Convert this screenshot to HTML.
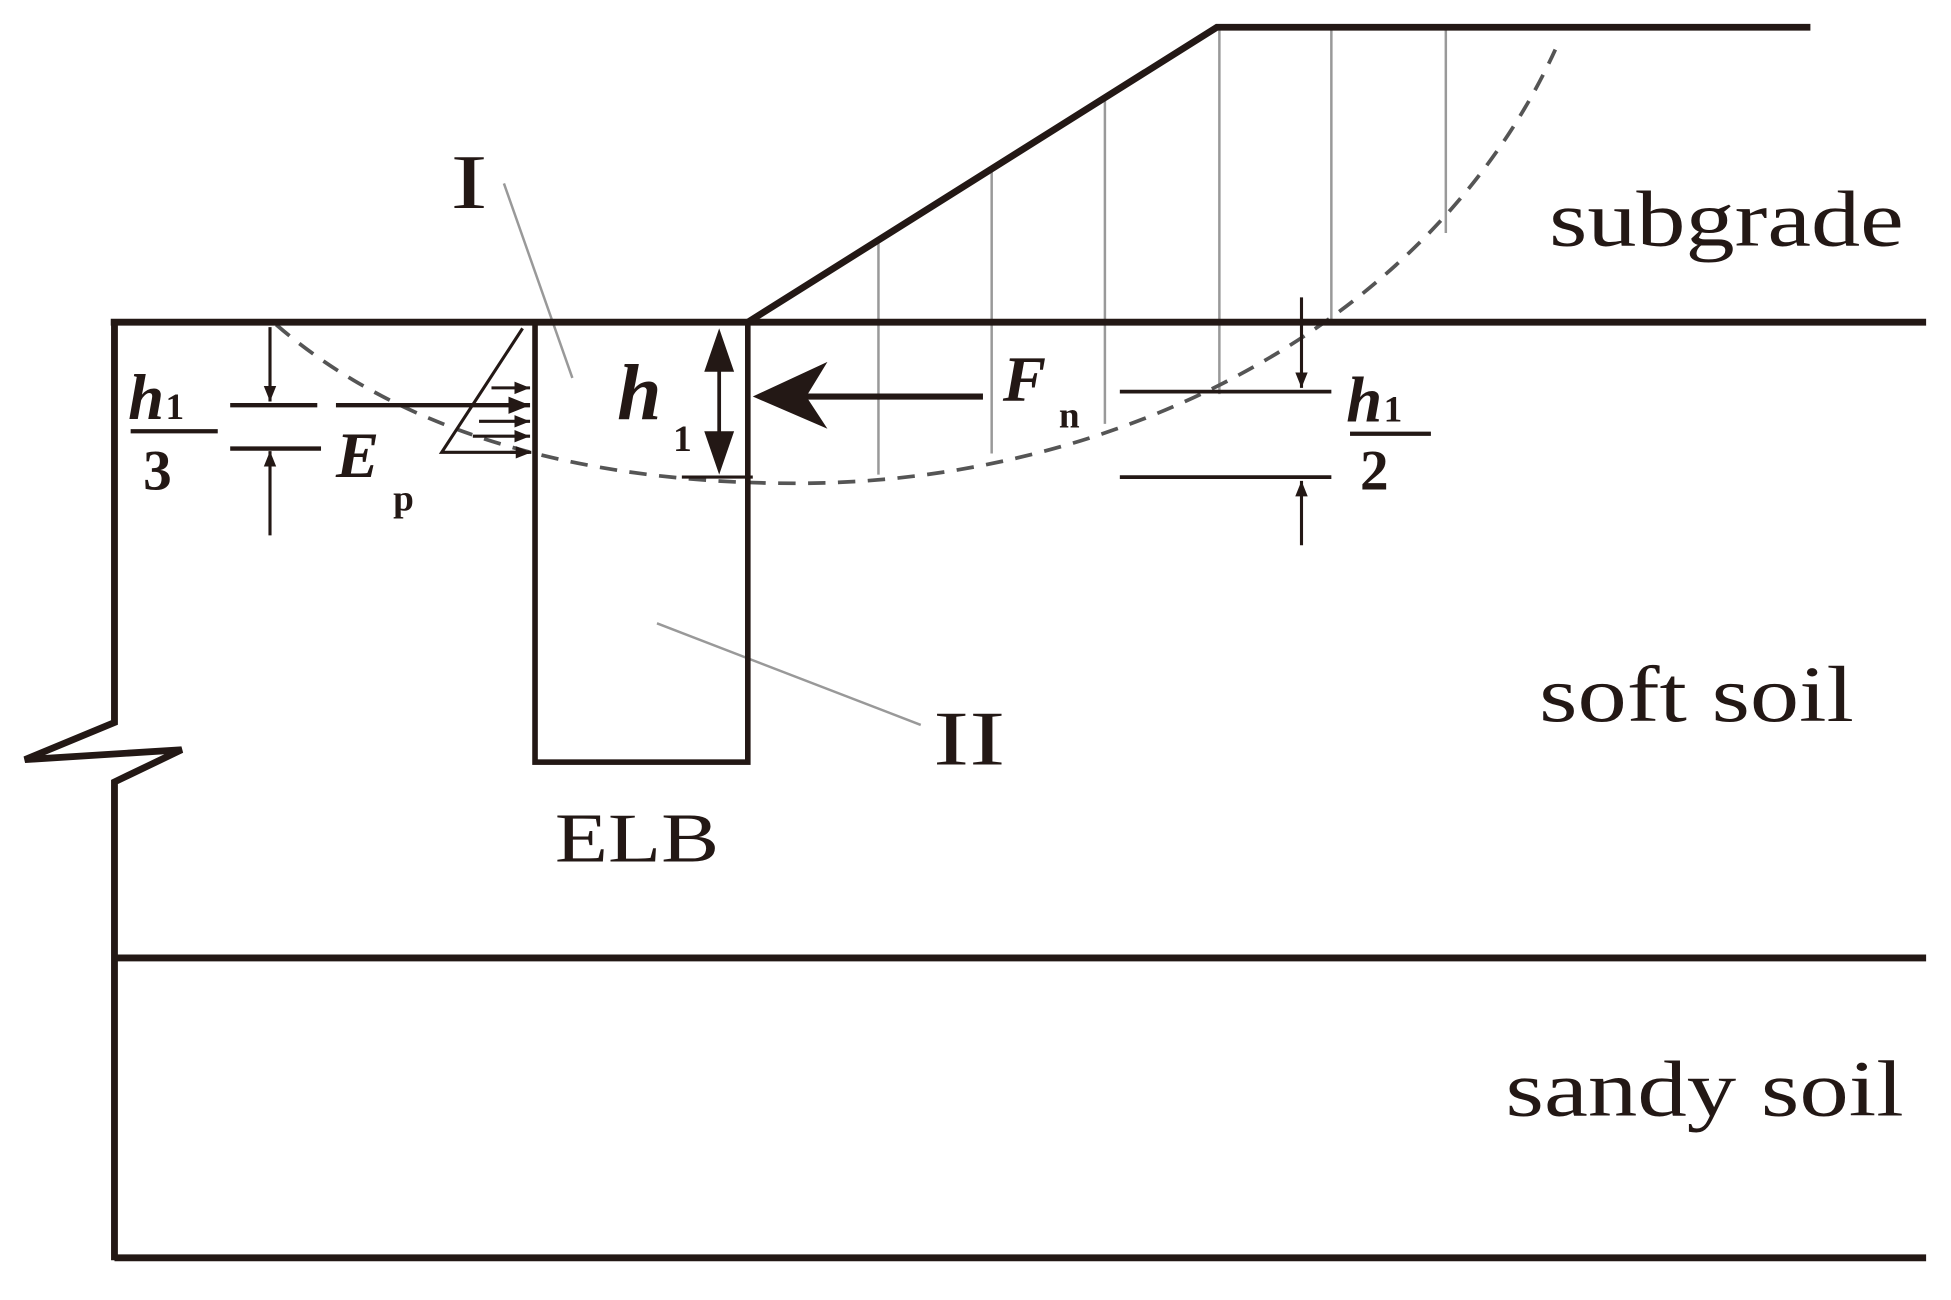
<!DOCTYPE html>
<html><head><style>html,body{margin:0;padding:0;background:#fff;overflow:hidden}</style></head>
<body>
<svg width="1951" height="1295" viewBox="0 0 1568 1045" preserveAspectRatio="none" xmlns="http://www.w3.org/2000/svg" font-family="Liberation Serif, serif" fill="#231815">
<defs>
<marker id="a" viewBox="0 0 10 10" refX="10" refY="5" markerWidth="5" markerHeight="5" orient="auto-start-reverse"><path d="M0,1 L10,5 L0,9 Z" fill="#231815"/></marker>
</defs>
<g stroke="#999" stroke-width="2" fill="none">
<line x1="706" y1="194" x2="706" y2="383"/>
<line x1="797" y1="136" x2="797" y2="366"/>
<line x1="888" y1="79" x2="888" y2="342"/>
<line x1="980" y1="22" x2="980" y2="318"/>
<line x1="1070" y1="22" x2="1070" y2="262"/>
<line x1="1162" y1="22" x2="1162" y2="188"/>
<line x1="405" y1="148" x2="460" y2="305"/>
<line x1="528" y1="503" x2="740" y2="585"/>
</g>
<path d="M222 262 C300 330 430 390 640 390 C900 390 1150 260 1250 40" stroke="#555" stroke-width="3" stroke-dasharray="14 10" fill="none"/>
<g stroke="#231815" fill="none">
<line x1="89" y1="260" x2="1548" y2="260" stroke-width="5.5"/>
<polyline points="92,258 92,583 20,613 146,605 92,631 92,1017" stroke-width="5.5"/>
<line x1="92" y1="773" x2="1548" y2="773" stroke-width="5.5"/>
<line x1="92" y1="1015" x2="1548" y2="1015" stroke-width="5.5"/>
<rect x="430" y="260" width="171" height="355" stroke-width="4.5"/>
<polyline points="601,260 978,22 1455,22" stroke-width="5.5"/>
<g stroke-width="2.5">
<line x1="217" y1="264" x2="217" y2="324" marker-end="url(#a)"/>
<line x1="217" y1="432" x2="217" y2="364" marker-end="url(#a)"/>
<line x1="185" y1="327" x2="255" y2="327" stroke-width="3.5"/>
<line x1="185" y1="362" x2="258" y2="362" stroke-width="3.5"/>
<line x1="270" y1="327" x2="426" y2="327" marker-end="url(#a)" stroke-width="3.5"/>
<polyline points="420,265 355,365 425,365"/>
<line x1="395" y1="313" x2="426" y2="313" marker-end="url(#a)"/>
<line x1="385" y1="340" x2="426" y2="340" marker-end="url(#a)"/>
<line x1="380" y1="352" x2="426" y2="352" marker-end="url(#a)"/>
<line x1="410" y1="365" x2="427" y2="365" marker-end="url(#a)"/>
<line x1="548" y1="385" x2="605" y2="385"/>
<line x1="900" y1="316" x2="1070" y2="316" stroke-width="3"/>
<line x1="900" y1="385" x2="1070" y2="385" stroke-width="3"/>
<line x1="1046" y1="240" x2="1046" y2="313" marker-end="url(#a)"/>
<line x1="1046" y1="440" x2="1046" y2="388" marker-end="url(#a)"/>
<line x1="105" y1="348" x2="175" y2="348" stroke-width="3.5"/>
<line x1="1085" y1="350" x2="1150" y2="350" stroke-width="3.5"/>
</g>
<line x1="578" y1="275" x2="578" y2="373" stroke-width="3"/>
<line x1="640" y1="320" x2="790" y2="320" stroke-width="5"/>
</g>
<path d="M578 265 L566 300 L590 300 Z M578 383 L566 348 L590 348 Z"/>
<path d="M605 320 L665 292 L648 320 L665 346 Z"/>
<g font-size="62">
<text x="362" y="168" textLength="30" lengthAdjust="spacingAndGlyphs">I</text>
<text x="750" y="617" textLength="58" lengthAdjust="spacingAndGlyphs">II</text>
</g>
<g font-weight="bold" font-style="italic" font-size="52">
<text x="103" y="338">h</text><text x="133" y="338" font-size="30" font-style="normal">1</text>
<text x="1082" y="340">h</text><text x="1112" y="340" font-size="30" font-style="normal">1</text>
<text x="270" y="385">E</text>
<text x="496" y="338" font-size="64">h</text>
<text x="806" y="323">F</text>
</g>
<g font-weight="bold" font-size="30">
<text x="115" y="395" font-size="46">3</text>
<text x="1093" y="395" font-size="46">2</text>
<text x="316" y="412">p</text>
<text x="541" y="364">1</text>
<text x="851" y="345">n</text>
</g>
<g font-size="64">
<text x="1245" y="198" textLength="285" lengthAdjust="spacingAndGlyphs">subgrade</text>
<text x="1237" y="582" textLength="253" lengthAdjust="spacingAndGlyphs">soft soil</text>
<text x="1210" y="900" textLength="320" lengthAdjust="spacingAndGlyphs">sandy soil</text>
<text x="446" y="695" font-size="56" textLength="132" lengthAdjust="spacingAndGlyphs">ELB</text>
</g>
</svg>
</body></html>
